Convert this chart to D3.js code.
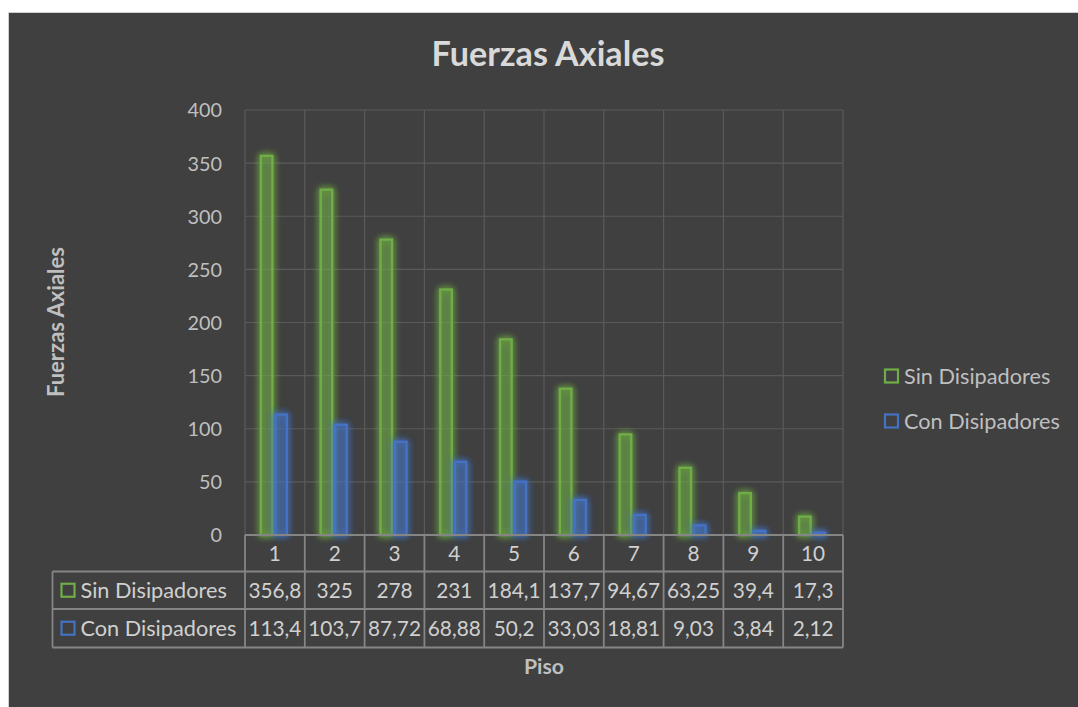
<!DOCTYPE html>
<html><head><meta charset="utf-8">
<script src="https://cdn.jsdelivr.net/npm/d3@7"></script>
<style>html,body{margin:0;padding:0;background:#fff;} svg{display:block;font-family:Lato,"Open Sans",sans-serif;}</style>
</head><body>
<script>
const categories = ["1","2","3","4","5","6","7","8","9","10"];
const seriesNames = ["Sin Disipadores","Con Disipadores"];
const sinDisipadores = [356.8,325,278,231,184.1,137.7,94.67,63.25,39.4,17.3];
const conDisipadores = [113.4,103.7,87.72,68.88,50.2,33.03,18.81,9.03,3.84,2.12];
const tableSin = ["356,8","325","278","231","184,1","137,7","94,67","63,25","39,4","17,3"];
const tableCon = ["113,4","103,7","87,72","68,88","50,2","33,03","18,81","9,03","3,84","2,12"];
const yTicks = [0,50,100,150,200,250,300,350,400];
const colors = ["#70ad47","#4472c4"];

const W=1078,H=707;
const svg=d3.select("body").append("svg").attr("width",W).attr("height",H);

// font-size fitting helper: size so that sample string spans target width
function fitSize(sample, target, weight){
  const t=svg.append("text").attr("font-size",100).attr("font-weight",weight||"normal").text(sample);
  const w=t.node().getComputedTextLength(); t.remove();
  return 100*target/w;
}
const fsTitle=fitSize("Fuerzas Axiales",233,"bold");
const fsYTitle=fitSize("Fuerzas Axiales",150,"bold");
const fsPiso=fitSize("Piso",40,"bold");
const fsLabel=fitSize("Con Disipadores",156);
const fsVal=fitSize("356,8",53);
const fsTick=fitSize("400",34.5);

const defs=svg.append("defs");
colors.forEach((c,i)=>{
  const f=defs.append("filter").attr("id","glow"+i).attr("x","-80%").attr("y","-20%").attr("width","260%").attr("height","140%");
  f.append("feGaussianBlur").attr("in","SourceGraphic").attr("stdDeviation",3.5).attr("result","b");
  const m=f.append("feMerge");
  m.append("feMergeNode").attr("in","b");
  m.append("feMergeNode").attr("in","b");
  m.append("feMergeNode").attr("in","SourceGraphic");
});

svg.append("rect").attr("x",8.5).attr("y",12.5).attr("width",W).attr("height",H).attr("fill","#404040").attr("stroke","#d0d0d0").attr("stroke-width",1);

const x0=245,x1=843,yTop=110,yBot=535;
const x=d3.scaleBand().domain(categories).range([x0,x1]);
const y=d3.scaleLinear().domain([0,400]).range([yBot,yTop]);

// gridlines
const g=svg.append("g");
g.selectAll(".hg").data(yTicks.slice(1)).join("line")
 .attr("x1",x0).attr("x2",x1).attr("y1",d=>y(d)).attr("y2",d=>y(d))
 .attr("stroke","#5a5a5a").attr("stroke-width",1.2);
g.selectAll(".vg").data(categories.concat(["end"])).join("line")
 .attr("x1",(d,i)=>x0+i*x.bandwidth()).attr("x2",(d,i)=>x0+i*x.bandwidth())
 .attr("y1",yTop).attr("y2",yBot).attr("stroke","#5a5a5a").attr("stroke-width",1.2);

// y axis labels
const yAxis=d3.axisLeft(y).tickValues(yTicks).tickSize(0).tickPadding(0);
const ya=svg.append("g").attr("transform","translate(222,0)").call(yAxis);
ya.select(".domain").remove();
ya.selectAll("text").attr("fill","#bfbfbf").attr("font-size",fsTick).attr("font-family","Lato,sans-serif").attr("dy","0.35em");

// bars
const bw=11.5, gap=3;
const series=[sinDisipadores,conDisipadores];
series.forEach((vals,si)=>{
  svg.append("g").attr("filter","url(#glow"+si+")").selectAll("rect").data(vals).join("rect")
   .attr("x",(d,i)=>x(categories[i])+x.bandwidth()/2 - bw - gap/2 + si*(bw+gap) - 1)
   .attr("y",d=>y(d)).attr("width",bw).attr("height",d=>yBot-y(d))
   .attr("fill",colors[si]).attr("fill-opacity",0.18)
   .attr("stroke",colors[si]).attr("stroke-width",2.4);
});

// table
const tb=svg.append("g");
const rowY=[535,571.5,609,647.5];
const lineC="#858585", lw=1.8;
tb.append("line").attr("x1",x0).attr("x2",x1).attr("y1",rowY[0]).attr("y2",rowY[0]).attr("stroke",lineC).attr("stroke-width",lw);
[1,2,3].forEach(r=>tb.append("line").attr("x1",52.5).attr("x2",x1).attr("y1",rowY[r]).attr("y2",rowY[r]).attr("stroke",lineC).attr("stroke-width",lw));
categories.concat(["end"]).forEach((d,i)=>{
  const xx=x0+i*x.bandwidth();
  tb.append("line").attr("x1",xx).attr("x2",xx).attr("y1",rowY[0]).attr("y2",rowY[3]).attr("stroke",lineC).attr("stroke-width",lw);
});
tb.append("line").attr("x1",52.5).attr("x2",52.5).attr("y1",rowY[1]).attr("y2",rowY[3]).attr("stroke",lineC).attr("stroke-width",lw);

tb.selectAll(".cat").data(categories).join("text")
 .attr("x",d=>x(d)+x.bandwidth()/2).attr("y",(rowY[0]+rowY[1])/2).attr("dy","0.36em")
 .attr("text-anchor","middle").attr("fill","#d0d0d0").attr("font-size",fsVal).text(d=>d);
[tableSin,tableCon].forEach((arr,r)=>{
  tb.selectAll(".v"+r).data(arr).join("text")
   .attr("x",(d,i)=>x(categories[i])+x.bandwidth()/2).attr("y",(rowY[r+1]+rowY[r+2])/2).attr("dy","0.36em")
   .attr("text-anchor","middle").attr("fill","#d0d0d0").attr("font-size",fsVal).text(d=>d);
  const cy=(rowY[r+1]+rowY[r+2])/2;
  tb.append("rect").attr("x",61.5).attr("y",cy-6.5).attr("width",13).attr("height",13)
   .attr("fill","none").attr("stroke",colors[r]).attr("stroke-width",2.2);
  tb.append("text").attr("x",80.5).attr("y",cy).attr("dy","0.36em").attr("fill","#d0d0d0").attr("font-size",fsLabel).text(seriesNames[r]);
});

// legend
const lg=svg.append("g");
seriesNames.forEach((n,i)=>{
  const cy=376+i*45;
  lg.append("rect").attr("x",885).attr("y",cy-6.5).attr("width",13).attr("height",13)
   .attr("fill","none").attr("stroke",colors[i]).attr("stroke-width",2.2);
  lg.append("text").attr("x",904).attr("y",cy).attr("dy","0.36em").attr("fill","#bfbfbf").attr("font-size",fsLabel).text(n);
});

// titles
svg.append("text").attr("x",548).attr("y",66).attr("text-anchor","middle").attr("fill","#d9d9d9")
 .attr("font-size",fsTitle).attr("font-weight","bold").text("Fuerzas Axiales");
svg.append("text").attr("transform","translate(64,322) rotate(-90)").attr("text-anchor","middle").attr("fill","#bfbfbf")
 .attr("font-size",fsYTitle).attr("font-weight","bold").text("Fuerzas Axiales");
svg.append("text").attr("x",544).attr("y",674).attr("text-anchor","middle").attr("fill","#bfbfbf")
 .attr("font-size",fsPiso).attr("font-weight","bold").text("Piso");
</script>
</body></html>
